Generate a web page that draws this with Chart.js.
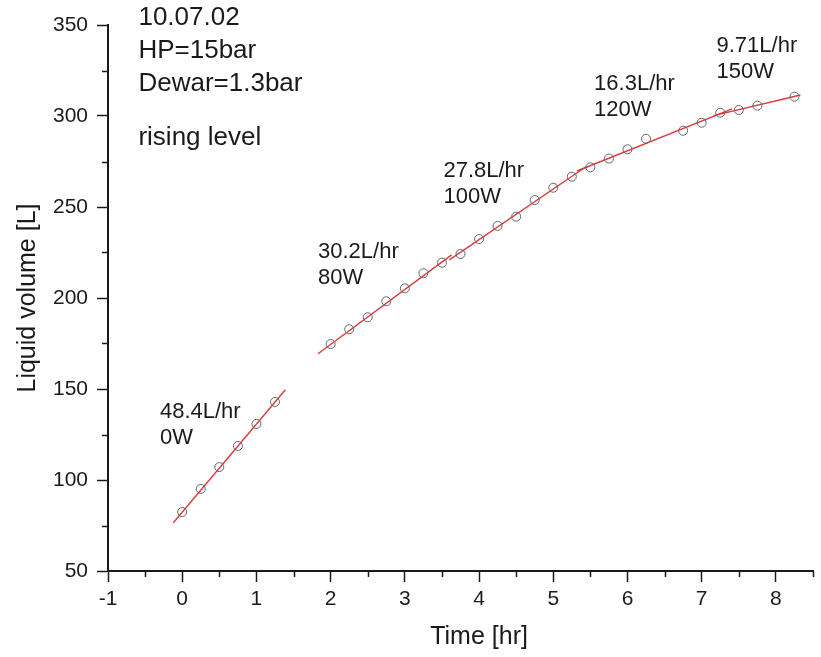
<!DOCTYPE html>
<html>
<head>
<meta charset="utf-8">
<title>Liquid volume vs time</title>
<script src="https://cdn.jsdelivr.net/npm/chart.js@4.4.1/dist/chart.umd.min.js"></script>
<style>
    html, body { margin: 0; padding: 0; background: #fff; }
    #levelChart { display: block; }
</style>
</head>
<body>
<canvas id="levelChart" width="821" height="657"></canvas>
<script>
// measured level, every 15 min
var timeHr = [0, 0.25, 0.5, 0.75, 1, 1.25,
    2, 2.25, 2.5, 2.75, 3, 3.25, 3.5,
    3.75, 4, 4.25, 4.5, 4.75, 5, 5.25,
    5.5, 5.75, 6, 6.25, 6.75, 7,
    7.25, 7.5, 7.75, 8.25];
var volumeL = [82.4, 95.1, 107.1, 118.7, 130.8, 142.9,
    174.7, 182.8, 189.4, 198.2, 205.3, 213.6, 219.4,
    224.2, 232.4, 239.6, 244.7, 253.8, 260.6, 266.7,
    271.8, 276.6, 281.7, 287.5, 291.9, 296.3,
    301.8, 303.3, 305.7, 310.6];

// linear fits, one per heater power
var fitRate = [48.4, 30.2, 27.8, 16.3, 9.71];      // L/hr
var fitPower = ['0W', '80W', '100W', '120W', '150W'];
var fitFrom = [-0.12, 1.83, 3.6, 5.32, 7.16];
var fitTo = [1.39, 3.63, 5.45, 7.41, 8.33];
var fitMidX = [0, 2, 4.5, 6.21, 7.69];
var fitMidY = [82.3, 174.5, 246.0, 284.3, 305.35];

// axis ticks
var xTicks = [-1, 0, 1, 2, 3, 4, 5, 6, 7, 8];
var xMinor = [-0.5, 0.5, 1.5, 2.5, 3.5, 4.5, 5.5, 6.5, 7.5, 8.5];
var yTicks = [50, 100, 150, 200, 250, 300, 350];
var yMinor = [75, 125, 175, 225, 275, 325];

var header = ['10.07.02', 'HP=15bar', 'Dewar=1.3bar'];

var FONT = "'Liberation Sans', Arial, sans-serif";
var INK = '#1a1a1a';
var RED = '#e0393c';

function fitLine(i) {
    return [fitFrom[i], fitTo[i]].map(function (x) {
        return { x: x, y: fitMidY[i] + fitRate[i] * (x - fitMidX[i]) };
    });
}

var datasets = [{
    label: 'level',
    data: timeHr.map(function (t, i) { return { x: t, y: volumeL[i] }; }),
    showLine: false,
    pointStyle: 'circle',
    pointRadius: 4.5,
    pointBorderWidth: 1,
    pointBorderColor: '#666',
    pointBackgroundColor: 'rgba(255,255,255,0)',
    order: 1
}];
fitRate.forEach(function (r, i) {
    datasets.push({
        label: fitPower[i],
        data: fitLine(i),
        showLine: true,
        borderColor: RED,
        borderWidth: 1.4,
        pointRadius: 0,
        order: 2
    });
});

// where the rate labels sit (data units, left edge / first line)
var notePos = [[-0.3, 137.4], [1.83, 225.3], [3.52, 269.8], [5.55, 317.6], [7.2, 338.5]];

// texts, minor ticks and x title
var extras = {
    id: 'extras',
    afterDraw: function (chart) {
        var ctx = chart.ctx;
        var xs = chart.scales.x, ys = chart.scales.y;
        var area = chart.chartArea;
        ctx.save();
        ctx.strokeStyle = INK;
        ctx.lineWidth = 1.5;
        ctx.beginPath();
        xMinor.forEach(function (v) {
            var px = Math.round(xs.getPixelForValue(v)) + 0.5;
            ctx.moveTo(px, area.bottom);
            ctx.lineTo(px, area.bottom + 6);
        });
        yMinor.forEach(function (v) {
            var py = Math.round(ys.getPixelForValue(v)) + 0.5;
            ctx.moveTo(area.left, py);
            ctx.lineTo(area.left - 6, py);
        });
        ctx.stroke();

        ctx.fillStyle = INK;
        ctx.textAlign = 'left';
        ctx.textBaseline = 'middle';

        ctx.font = '22px ' + FONT;
        fitRate.forEach(function (r, i) {
            var px = xs.getPixelForValue(notePos[i][0]);
            var py = ys.getPixelForValue(notePos[i][1]);
            ctx.fillText(r + 'L/hr', px, py);
            ctx.fillText(fitPower[i], px, py + 26);
        });

        ctx.font = '26px ' + FONT;
        var hx = xs.getPixelForValue(-0.59);
        var hy = ys.getPixelForValue(353.8);
        header.forEach(function (s, i) {
            ctx.fillText(s, hx, hy + i * 33);
        });
        ctx.fillText('rising level', hx, ys.getPixelForValue(287.9));

        ctx.textAlign = 'center';
        ctx.font = '25px ' + FONT;
        ctx.fillText('Time [hr]', xs.getPixelForValue(4.0), 637);
        ctx.restore();
    }
};

var ctx = document.getElementById('levelChart').getContext('2d');
new Chart(ctx, {
    type: 'scatter',
    data: { datasets: datasets },
    options: {
        responsive: false,
        animation: false,
        layout: { padding: { top: 25, right: 8, left: 0, bottom: 0 } },
        plugins: {
            legend: { display: false },
            tooltip: { enabled: false }
        },
        scales: {
            x: {
                type: 'linear',
                min: -1,
                max: 8.5,
                afterBuildTicks: function (scale) {
                    scale.ticks = xTicks.map(function (v) { return { value: v }; });
                },
                afterFit: function (scale) { scale.height = 86; },
                grid: { drawOnChartArea: false, tickLength: 11, tickWidth: 1.5, tickColor: INK },
                border: { color: INK, width: 2 },
                ticks: { color: INK, padding: 5, maxRotation: 0, font: { family: FONT, size: 21 } }
            },
            y: {
                type: 'linear',
                min: 50,
                max: 350,
                afterBuildTicks: function (scale) {
                    scale.ticks = yTicks.map(function (v) { return { value: v }; });
                },
                afterFit: function (scale) { scale.width = 108; },
                grid: { drawOnChartArea: false, tickLength: 11, tickWidth: 1.5, tickColor: INK },
                border: { color: INK, width: 2 },
                ticks: { color: INK, padding: 9, font: { family: FONT, size: 21 } },
                title: {
                    display: true,
                    text: 'Liquid volume [L]',
                    color: INK,
                    padding: { top: 13, bottom: 0 },
                    font: { family: FONT, size: 25 }
                }
            }
        }
    },
    plugins: [extras]
});
</script>
</body>
</html>
